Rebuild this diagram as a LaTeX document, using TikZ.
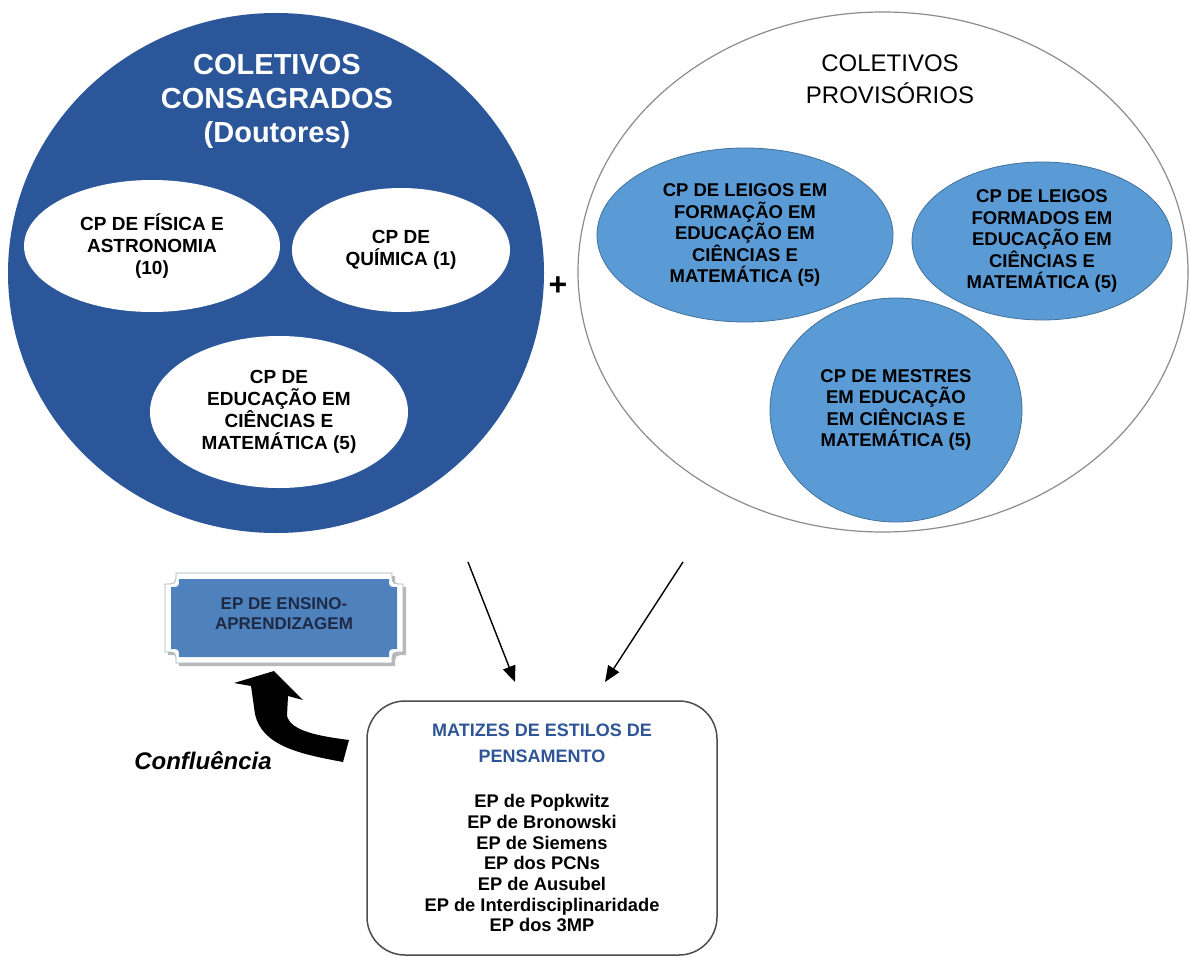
\documentclass[tikz,border=0pt]{standalone}
\usepackage{fontspec}
\setmainfont{Liberation Sans}
\usetikzlibrary{shapes.geometric,arrows.meta}
\definecolor{cdark}{HTML}{2B579A}
\definecolor{clight}{HTML}{5B9BD5}
\definecolor{clightb}{HTML}{41719C}
\definecolor{cplaque}{HTML}{4F81BD}
\definecolor{cplaqueb}{HTML}{A7B1BF}
\definecolor{cmat}{HTML}{2F5597}
\definecolor{cnavy}{HTML}{1C2A45}
\definecolor{cgrey}{HTML}{8C8C8C}
\tikzset{
  bigcirc/.style={ellipse, inner sep=0pt},
  whiteell/.style={ellipse, fill=white, inner sep=0pt, align=center, text=black,
    font=\fontsize{19}{22}\selectfont\bfseries},
  blueell/.style={ellipse, fill=clight, draw=clightb, line width=0.8pt, inner sep=0pt, align=center,
    text=black, font=\fontsize{18.5}{21.5}\selectfont\bfseries},
  lefttitle/.style={align=center, text=white, font=\fontsize{29}{34}\selectfont\bfseries},
  righttitle/.style={align=center, text=black, font=\fontsize{24}{32}\selectfont},
  thinarrow/.style={draw=black, line width=1.4pt, -{Triangle[length=16pt,width=13pt]}},
}
\begin{document}
\begin{tikzpicture}[x=1pt,y=-1pt]
\useasboundingbox (0,0) rectangle (1189,958);
\fill[white] (0,0) rectangle (1189,958);

% left big circle
\node[bigcirc, fill=cdark, minimum width=536, minimum height=520] (cc) at (276,273) {};
\node[lefttitle] (cct) at (277,101) {COLETIVOS\\CONSAGRADOS\\(Doutores)};
\node[whiteell, minimum width=256, minimum height=132] (fis) at (152,246) {CP DE FÍSICA E\\ASTRONOMIA\\(10)};
\node[whiteell, minimum width=218, minimum height=124] (qui) at (401,250) {CP DE\\QUÍMICA (1)};
\node[whiteell, minimum width=258, minimum height=152] (edu) at (279,412) {CP DE\\EDUCAÇÃO EM\\CIÊNCIAS E\\MATEMÁTICA (5)};

% plus sign
\node[font=\fontsize{32}{32}\selectfont\bfseries] (plus) at (558,286) {+};

% right big circle
\node[bigcirc, fill=white, draw=cgrey, line width=1.2pt, minimum width=610, minimum height=520] (cp) at (883,272) {};
\node[righttitle] (cpt) at (890,79) {COLETIVOS\\PROVISÓRIOS};
\node[blueell, minimum width=296, minimum height=174] (lf) at (745,235) {CP DE LEIGOS EM\\FORMAÇÃO EM\\EDUCAÇÃO EM\\CIÊNCIAS E\\MATEMÁTICA (5)};
\node[blueell, minimum width=260, minimum height=158] (lfo) at (1042,241) {CP DE LEIGOS\\FORMADOS EM\\EDUCAÇÃO EM\\CIÊNCIAS E\\MATEMÁTICA (5)};
\node[blueell, minimum width=252, minimum height=224] (me) at (896,410) {CP DE MESTRES\\EM EDUCAÇÃO\\EM CIÊNCIAS E\\MATEMÁTICA (5)};

% EP de ensino-aprendizagem plaque
\fill[gray!55] (179,576) -- (395,576) .. controls (395,587) .. (406,587) -- (406,655) .. controls (395,655) .. (395,666) -- (179,666) .. controls (179,655) .. (168,655) -- (168,587) .. controls (179,587) .. (179,576) -- cycle;
\draw[draw=cplaqueb, fill=white, line width=0.8pt] (176,573) -- (392,573) .. controls (392,584) .. (403,584) -- (403,652) .. controls (392,652) .. (392,663) -- (176,663) .. controls (176,652) .. (165,652) -- (165,584) .. controls (176,584) .. (176,573) -- cycle;
\fill[cplaque] (179,579) -- (389,579) .. controls (389,587) .. (397,587) -- (397,649) .. controls (389,649) .. (389,657) -- (179,657) .. controls (179,649) .. (171,649) -- (171,587) .. controls (179,587) .. (179,579) -- cycle;
\node[align=center, text=cnavy, font=\fontsize{17}{20}\selectfont\bfseries] (ep) at (284,614) {EP DE ENSINO-\\APRENDIZAGEM};

% Confluencia arrow
\fill[black] (274,671) -- (303,700) -- (288,696) -- (287,716)
  .. controls (291,731) and (318,736) .. (349,740)
  -- (343,762)
  .. controls (300,754) and (262,746) .. (255,714)
  -- (251,686) -- (234,683) -- cycle;
\node[font=\fontsize{24}{24}\selectfont\bfseries\itshape] (conf) at (203,761) {Confluência};

% matizes box
\node[draw=black!70, line width=1.5pt, rounded corners=38pt, minimum width=350, minimum height=254,
  align=center, font=\fontsize{18.3}{20.7}\selectfont\bfseries] (mat) at (542,828)
  {\textcolor{cmat}{\fontsize{18}{20}\selectfont MATIZES DE ESTILOS DE}\\[5pt]
   \textcolor{cmat}{\fontsize{18}{20}\selectfont PENSAMENTO}\\[25pt]
   EP de Popkwitz\\ EP de Bronowski\\ EP de Siemens\\ EP dos PCNs\\ EP de Ausubel\\
   EP de Interdisciplinaridade\\ EP dos 3MP};

% thin arrows
\coordinate (a1s) at (468,562);
\coordinate (a1e) at (515,682);
\coordinate (a2s) at (683,562);
\coordinate (a2e) at (605,682);
\draw[thinarrow] (a1s) -- (a1e);
\draw[thinarrow] (a2s) -- (a2e);
\end{tikzpicture}
\end{document}
